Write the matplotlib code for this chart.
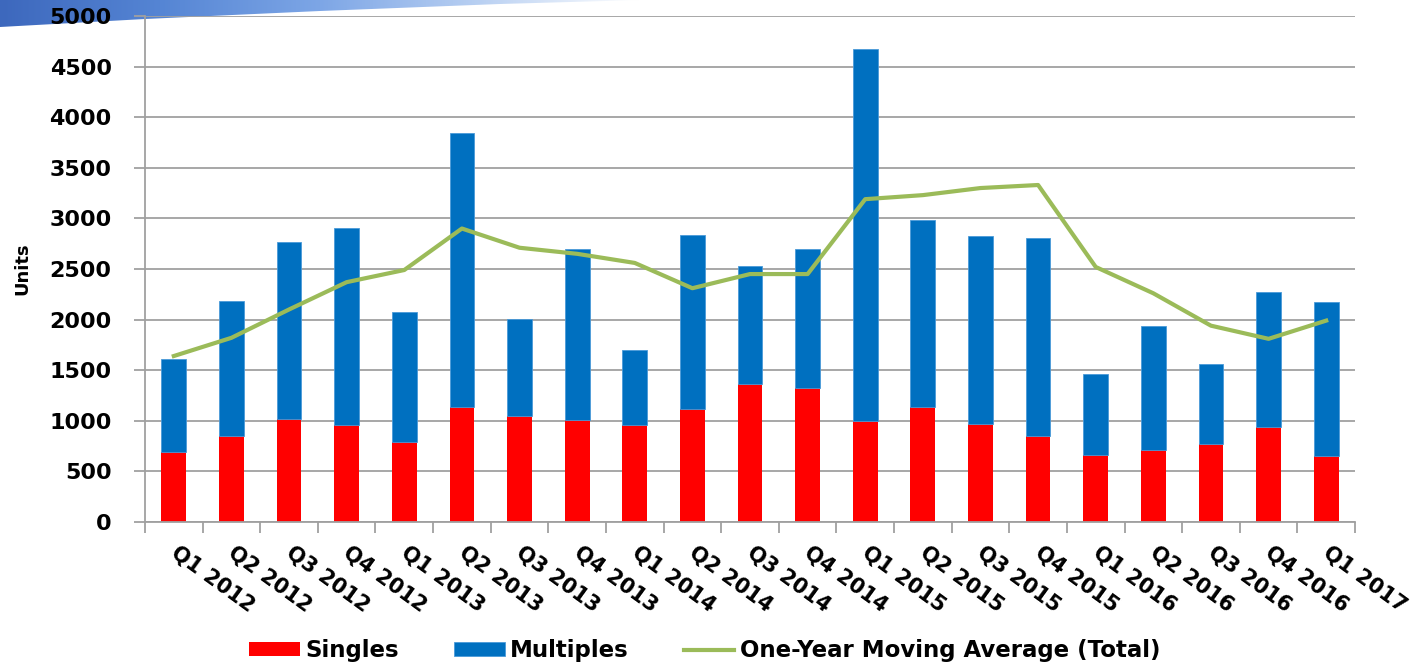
import numpy as np
import matplotlib
matplotlib.use("Agg")
import matplotlib.pyplot as plt
from matplotlib.colors import LinearSegmentedColormap
from matplotlib.patches import Polygon
from matplotlib.transforms import ScaledTranslation

plt.rcParams["font.family"] = ["DejaVu Sans"]
plt.rcParams["font.weight"] = "bold"

quarters = ["Q1 2012", "Q2 2012", "Q3 2012", "Q4 2012",
            "Q1 2013", "Q2 2013", "Q3 2013", "Q4 2013",
            "Q1 2014", "Q2 2014", "Q3 2014", "Q4 2014",
            "Q1 2015", "Q2 2015", "Q3 2015", "Q4 2015",
            "Q1 2016", "Q2 2016", "Q3 2016", "Q4 2016",
            "Q1 2017"]
singles = [690, 850, 1020, 960, 790, 1140, 1050, 1010, 960, 1120, 1360,
           1320, 1000, 1140, 970, 850, 660, 710, 770, 940, 650]
totals = [1610, 2180, 2770, 2910, 2080, 3840, 2010, 2700, 1700, 2840, 2530,
          2700, 4670, 2980, 2830, 2810, 1460, 1940, 1560, 2270, 2170]
moving_avg = [1640, 1820, 2100, 2370, 2490, 2900, 2710, 2650, 2560, 2310, 2450,
              2450, 3190, 3230, 3300, 3330, 2520, 2260, 1940, 1810, 1990]
multiples = [t - s for t, s in zip(totals, singles)]

red = "#FF0000"
blue = "#0070C0"
green = "#9BBB59"
grid_gray = "#A0A0A0"

fig = plt.figure(figsize=(14.1, 6.66), dpi=100)

# decorative blue swoosh at the top left (pixel coords)
deco = fig.add_axes([0, 0, 1, 1], zorder=0)
deco.set_xlim(0, 1410)
deco.set_ylim(666, 0)
deco.axis("off")
grad = np.linspace(0, 1, 256).reshape(1, -1)
swoosh_cmap = LinearSegmentedColormap.from_list(
    "swoosh", ["#3d68bd", "#5585d4", "#7da6e6", "#b9d0f2", "#ffffff"])
img = deco.imshow(grad, extent=(0, 640, 40, 0), cmap=swoosh_cmap, aspect="auto")
swoosh = Polygon([(0, 0), (640, 0), (500, 4), (320, 11), (145, 19), (0, 27)],
                 closed=True, transform=deco.transData)
img.set_clip_path(swoosh)

ax = fig.add_axes([145 / 1410, 1 - 522 / 666, 1210 / 1410, 506 / 666], zorder=1)
ax.patch.set_alpha(0)

x = np.arange(len(quarters))
width = 0.43
ax.bar(x, singles, width, color=red, label="Singles", zorder=2)
ax.bar(x, multiples, width, bottom=singles, color=blue, edgecolor="#4a9ad8",
       linewidth=0.6, label="Multiples", zorder=2)
ax.plot(x, moving_avg, color=green, linewidth=3, solid_joinstyle="round",
        label="One-Year Moving Average (Total)", zorder=3)

ax.set_xlim(-0.5, len(quarters) - 0.5)
ax.set_ylim(0, 5000)
ax.set_yticks(range(0, 5001, 500))
ax.yaxis.grid(True, color=grid_gray, linewidth=1.3)
ax.set_axisbelow(True)

for side in ("top", "right"):
    ax.spines[side].set_visible(False)
for side in ("left", "bottom"):
    ax.spines[side].set_color(grid_gray)
    ax.spines[side].set_linewidth(1.3)

ax.tick_params(axis="y", length=8, width=1.3, color=grid_gray, pad=16,
               labelsize=16)
ax.set_xticks(x)
ax.set_xticklabels(quarters, rotation=-36, ha="left", va="top",
                   rotation_mode="anchor", fontsize=15)
ax.tick_params(axis="x", which="major", length=0, pad=15)
ax.set_xticks(np.arange(-0.5, len(quarters)), minor=True)
ax.tick_params(axis="x", which="minor", length=8, width=1.3, color=grid_gray)
offset = ScaledTranslation(5 / 100, 0, fig.dpi_scale_trans)
for lab in ax.get_xticklabels():
    lab.set_transform(lab.get_transform() + offset)

ax.set_ylabel("Units", fontsize=13, fontweight="bold")
ax.yaxis.set_label_coords(-0.094, 0.5)

handles, labels = ax.get_legend_handles_labels()
order = [1, 2, 0]
fig.legend([handles[i] for i in order], [labels[i] for i in order],
           loc="center", bbox_to_anchor=(0.5, 1 - 651 / 666),
           ncol=3, frameon=False, fontsize=16.5, handlelength=2.2,
           handleheight=0.55, handletextpad=0.25, columnspacing=2.4)

fig.savefig("out.png", dpi=100)
